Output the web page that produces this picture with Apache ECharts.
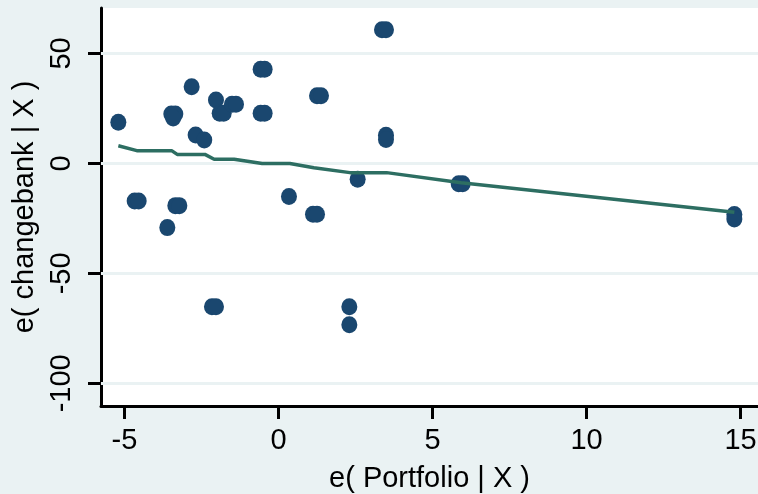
<!DOCTYPE html>
<html>
<head>
<meta charset="utf-8">
<script src="https://cdn.jsdelivr.net/npm/echarts@6/dist/echarts.min.js"></script>
<style>
  html, body { margin: 0; padding: 0; background: #eaf2f3; }
  #chart { width: 758px; height: 494px; }
</style>
</head>
<body>
<div id="chart"></div>
<script>
// Added-variable plot: residuals of changebank vs residuals of Portfolio
const portfolioResid = [
  -5.20, -4.67, -4.54, -3.48, -3.35, -3.42, -3.35, -3.22, -3.61, -2.82,
  -2.69, -2.41, -2.03, -1.91, -1.78, -1.51, -1.38, -2.16, -2.03, -0.58,
  -0.45, -0.58, -0.45, 0.34, 1.25, 1.38, 1.12, 1.25, 2.57, 2.30,
  2.30, 3.36, 3.49, 3.49, 3.49, 5.85, 5.98, 14.80, 14.80
];
const changebankResid = [
  18.7, -17.1, -17.1, 22.5, 22.5, 20.6, -19.2, -19.2, -29.2, 34.9,
  12.9, 10.6, 28.8, 22.8, 22.8, 26.9, 26.9, -65.2, -65.2, 42.8,
  42.8, 22.8, 22.8, -15.1, 30.8, 30.8, -23.1, -23.1, -7.2, -65.2,
  -73.4, 60.8, 60.8, 12.8, 10.9, -9.2, -9.2, -23.2, -25.3
];

// Smoothed fit through the residuals
const fitX = [-5.20, -4.60, -3.47, -3.29, -2.39, -2.09, -1.44, -0.53, 0.37, 1.15, 2.32, 3.51, 5.93, 14.80];
const fitY = [8.0, 5.8, 5.8, 4.1, 4.1, 1.9, 1.9, 0.0, 0.0, -2.0, -4.2, -4.2, -8.8, -22.2];

const xTicks = [-5, 0, 5, 10, 15];
const yTicks = [-100, -50, 0, 50];

const xTitle = 'e( Portfolio | X )';
const yTitle = 'e( changebank | X )';

const font = "'Liberation Sans', Arial, sans-serif";
const bg = '#eaf2f3';

const chart = echarts.init(document.getElementById('chart'), null, { renderer: 'canvas' });

const axisCommon = {
  axisLine: { show: true, onZero: false, lineStyle: { color: '#000', width: 3 } },
  axisTick: { show: true, length: 13, lineStyle: { color: '#000', width: 3 } },
  splitLine: { show: false },
  nameTextStyle: { color: '#000', fontSize: 29, fontFamily: font },
  nameLocation: 'middle'
};

chart.setOption({
  backgroundColor: bg,
  animation: false,
  grid: {
    left: 101, top: 8, right: 0, bottom: 88,
    containLabel: false,
    outerBoundsMode: 'none',
    show: true, backgroundColor: '#ffffff', borderWidth: 0
  },
  xAxis: Object.assign({}, axisCommon, {
    type: 'value',
    min: -5.763, max: 15.568,
    name: xTitle,
    nameGap: 58,
    axisTick: Object.assign({}, axisCommon.axisTick, { customValues: xTicks }),
    axisLabel: {
      customValues: xTicks, margin: 20,
      color: '#000', fontSize: 29, fontFamily: font
    }
  }),
  yAxis: Object.assign({}, axisCommon, {
    type: 'value',
    min: -110.32, max: 70.67,
    name: yTitle,
    nameGap: 58,
    axisTick: Object.assign({}, axisCommon.axisTick, { customValues: yTicks }),
    axisLabel: {
      customValues: yTicks, margin: 25, rotate: 90,
      color: '#000', fontSize: 29, fontFamily: font
    }
  }),
  series: [
    {
      type: 'scatter',
      z: 2,
      symbol: 'circle',
      symbolSize: [16, 17],
      itemStyle: { color: '#1a476f', opacity: 1 },
      data: portfolioResid.map((x, i) => [x, changebankResid[i]]),
      markLine: {
        z: 1,
        silent: true,
        symbol: ['none', 'none'],
        label: { show: false },
        lineStyle: { color: bg, width: 3, type: 'solid' },
        data: yTicks.map(v => ({ yAxis: v }))
      }
    },
    {
      type: 'line',
      z: 3,
      symbol: 'none',
      lineStyle: { color: '#2d6e62', width: 3.5 },
      data: fitX.map((x, i) => [x, fitY[i]])
    }
  ]
});
</script>
</body>
</html>
